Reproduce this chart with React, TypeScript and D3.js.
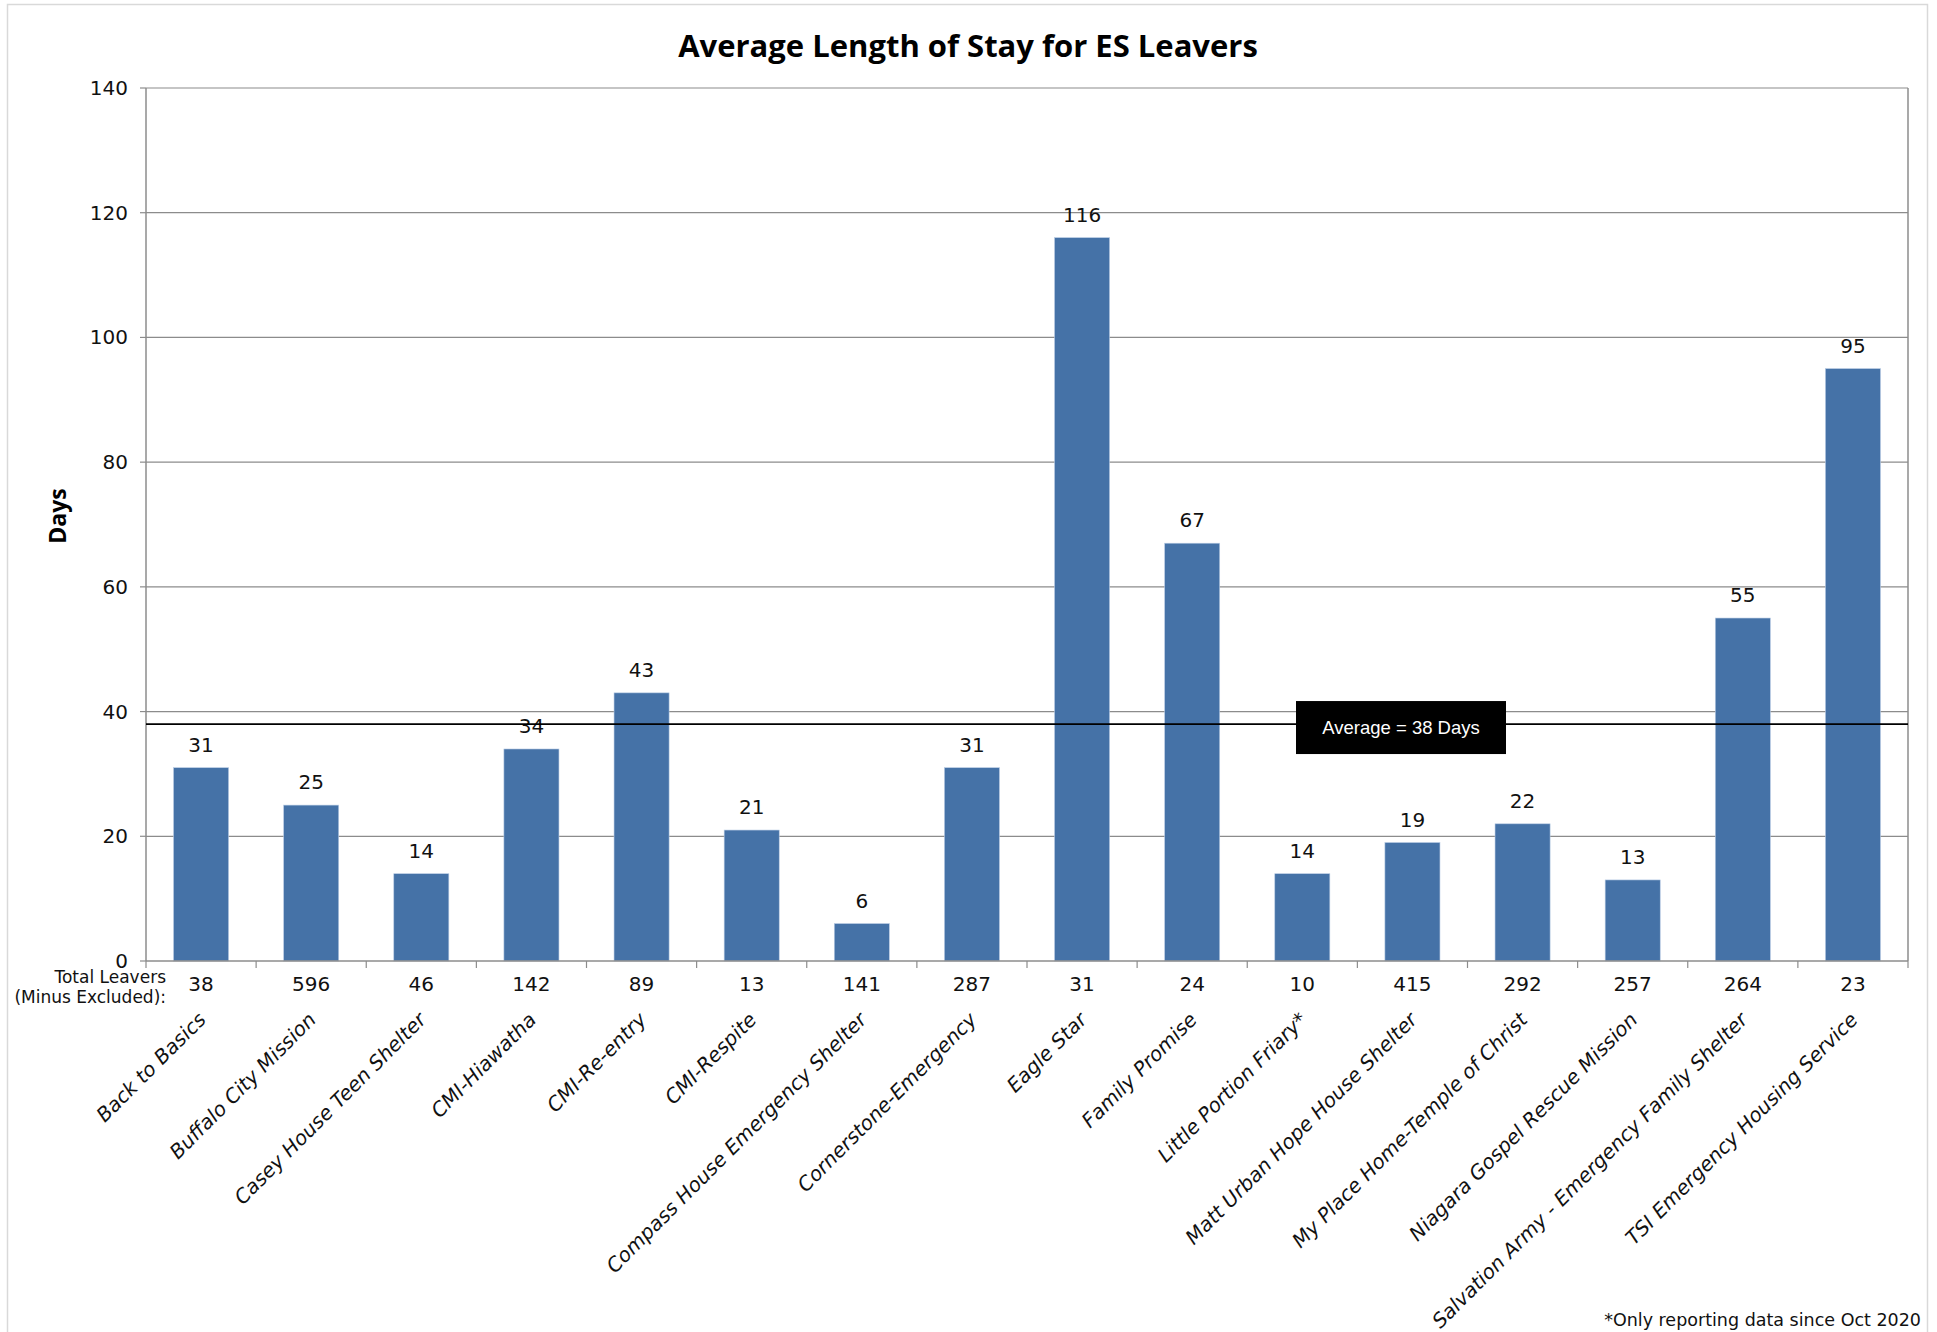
import React from "react";
import * as d3 from "d3";

const categories = [
  "Back to Basics",
  "Buffalo City Mission",
  "Casey House Teen Shelter",
  "CMI-Hiawatha",
  "CMI-Re-entry",
  "CMI-Respite",
  "Compass House Emergency Shelter",
  "Cornerstone-Emergency",
  "Eagle Star",
  "Family Promise",
  "Little Portion Friary*",
  "Matt Urban Hope House Shelter",
  "My Place Home-Temple of Christ",
  "Niagara Gospel Rescue Mission",
  "Salvation Army - Emergency Family Shelter",
  "TSI Emergency Housing Service",
];
const avgDays = [31, 25, 14, 34, 43, 21, 6, 31, 116, 67, 14, 19, 22, 13, 55, 95];
const totalLeavers = [38, 596, 46, 142, 89, 13, 141, 287, 31, 24, 10, 415, 292, 257, 264, 23];
const yTicks = [0, 20, 40, 60, 80, 100, 120, 140];
const averageValue = 38;
const averageLabel = "Average = 38 Days";
const title = "Average Length of Stay for ES Leavers";
const yTitle = "Days";
const footnote = "*Only reporting data since Oct 2020";

const W = 1937;
const H = 1332;
const left = 146;
const right = 1908;
const top = 88;
const bottom = 961;
const FONT = "'DejaVu Sans', 'Open Sans', sans-serif";
const TITLE_FONT = "'Open Sans', 'DejaVu Sans', sans-serif";
const BAR = "#4572A7";
const GRID = "#8c8c8c";

export default function App() {
  const x = d3
    .scaleBand<number>()
    .domain(d3.range(categories.length))
    .range([left, right])
    .paddingInner(0.5)
    .paddingOuter(0.25);
  const y = d3.scaleLinear().domain([0, 140]).range([bottom, top]);
  const step = (right - left) / categories.length;
  const boundaries = d3.range(categories.length + 1).map((i) => left + i * step);
  const yAvg = y(averageValue);

  return (
    <svg
      width={W}
      height={H}
      style={{ position: "absolute", left: 0, top: 0, background: "#fff" }}
    >
      <rect x={0} y={0} width={W} height={H} fill="#fff" />
      <rect x={7.5} y={4.5} width={1920} height={H + 10} fill="none" stroke="#d9d9d9" strokeWidth={1.5} />

      <text
        x={968}
        y={57}
        textAnchor="middle"
        fontFamily={TITLE_FONT}
        fontWeight="bold"
        fontSize={31}
        fill="#000"
      >
        {title}
      </text>

      {/* gridlines */}
      {yTicks.map((t) => (
        <g key={t}>
          {t > 0 && (
            <line x1={left} x2={right} y1={y(t)} y2={y(t)} stroke={GRID} strokeWidth={1.2} />
          )}
          <line x1={left - 6} x2={left} y1={y(t)} y2={y(t)} stroke={GRID} strokeWidth={1.2} />
          <text
            x={left - 18}
            y={y(t) + 7}
            textAnchor="end"
            fontFamily={FONT}
            fontSize={20}
            fill="#111"
          >
            {t}
          </text>
        </g>
      ))}

      {/* bars */}
      {avgDays.map((v, i) => (
        <rect
          key={i}
          x={x(i)!}
          y={y(v)}
          width={x.bandwidth()}
          height={bottom - y(v)}
          fill={BAR}
          stroke="#b9cce4"
          strokeWidth={0.6}
        />
      ))}

      {/* plot frame */}
      <line x1={left} x2={left} y1={top} y2={bottom} stroke={GRID} strokeWidth={1.5} />
      <line x1={right} x2={right} y1={top} y2={bottom} stroke={GRID} strokeWidth={1.5} />
      <line x1={left} x2={right} y1={bottom} y2={bottom} stroke={GRID} strokeWidth={1.5} />
      {boundaries.map((b, i) => (
        <line key={i} x1={b} x2={b} y1={bottom} y2={bottom + 7} stroke={GRID} strokeWidth={1.2} />
      ))}

      {/* value labels */}
      {avgDays.map((v, i) => (
        <text
          key={i}
          x={x(i)! + x.bandwidth() / 2}
          y={y(v) - 16}
          textAnchor="middle"
          fontFamily={FONT}
          fontSize={20}
          fill="#111"
        >
          {v}
        </text>
      ))}

      {/* average line */}
      <line x1={left} x2={right} y1={yAvg} y2={yAvg} stroke="#000" strokeWidth={1.8} />
      <rect x={1296} y={yAvg - 23} width={210} height={53} fill="#000" />
      <text
        x={1401}
        y={yAvg + 10}
        textAnchor="middle"
        fontFamily="'Liberation Sans', 'Open Sans', sans-serif"
        fontSize={18.5}
        fill="#fff"
      >
        {averageLabel}
      </text>

      {/* y title */}
      <text
        transform={`translate(66, ${516}) rotate(-90)`}
        textAnchor="middle"
        fontFamily={TITLE_FONT}
        fontWeight="bold"
        fontSize={23}
        fill="#000"
      >
        {yTitle}
      </text>

      {/* total leavers row */}
      <text x={166} y={983} textAnchor="end" fontFamily={FONT} fontSize={17} fill="#111">
        Total Leavers
      </text>
      <text x={166} y={1003} textAnchor="end" fontFamily={FONT} fontSize={17} fill="#111">
        (Minus Excluded):
      </text>
      {totalLeavers.map((n, i) => (
        <text
          key={i}
          x={x(i)! + x.bandwidth() / 2}
          y={991}
          textAnchor="middle"
          fontFamily={FONT}
          fontSize={20}
          fill="#111"
        >
          {n}
        </text>
      ))}

      {/* category labels */}
      {categories.map((c, i) => (
        <text
          key={i}
          transform={`translate(${x(i)! + x.bandwidth() / 2 + 6}, 1021) rotate(-45)`}
          textAnchor="end"
          fontFamily={FONT}
          fontStyle="italic"
          fontSize={20}
          fill="#111"
        >
          {c}
        </text>
      ))}

      <text x={1921} y={1326} textAnchor="end" fontFamily={FONT} fontSize={17.5} fill="#111">
        {footnote}
      </text>
    </svg>
  );
}
